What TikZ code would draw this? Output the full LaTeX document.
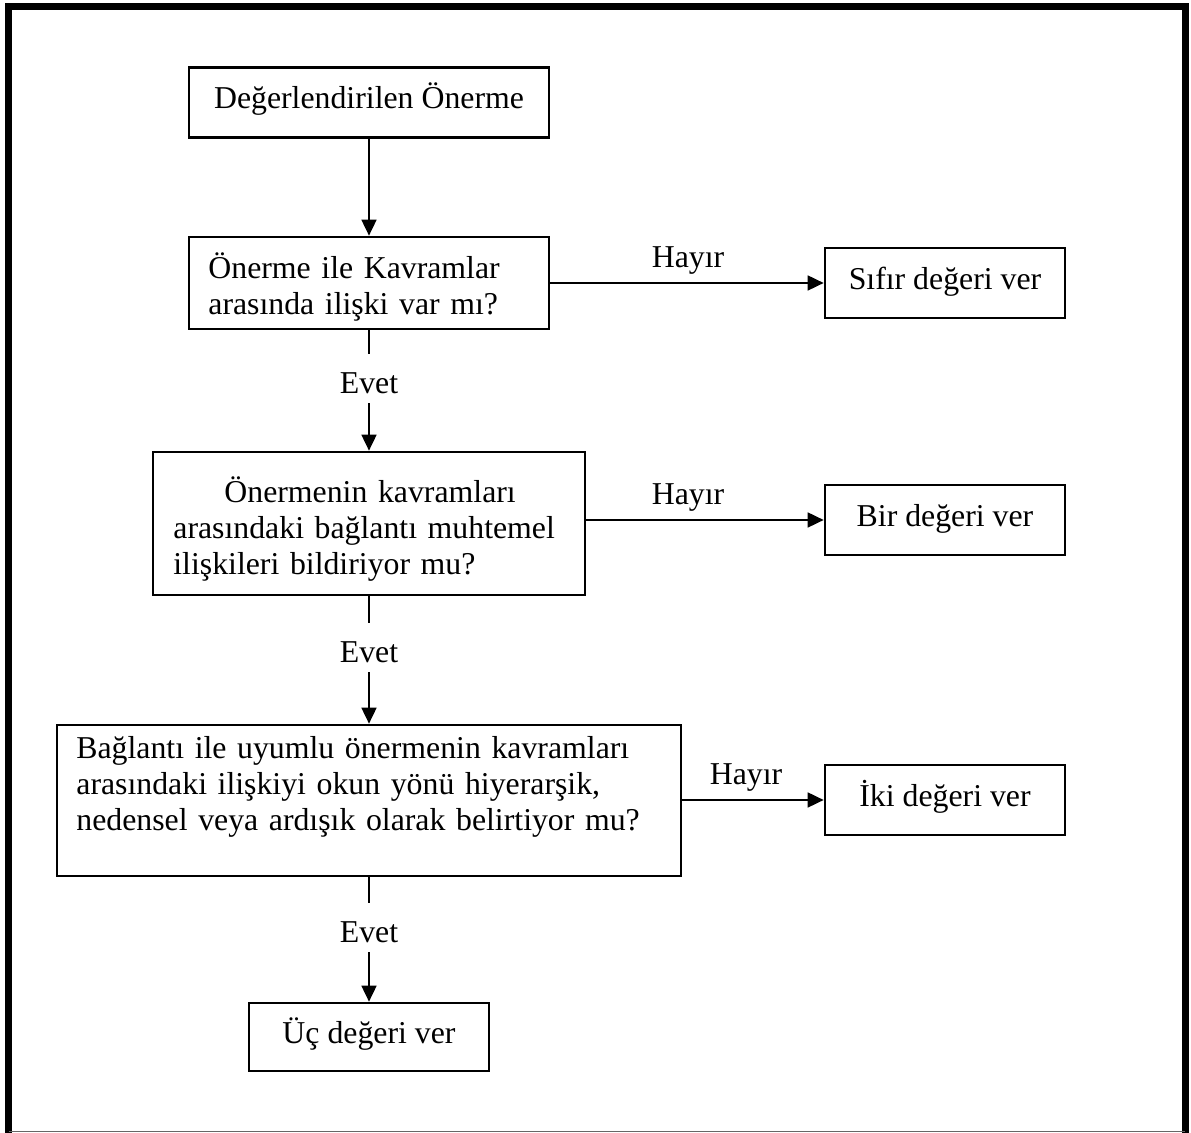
\documentclass[tikz,border=0pt]{standalone}
\usepackage{fontspec}
\setmainfont{Liberation Serif}
\usetikzlibrary{arrows.meta}
\begin{document}
\begin{tikzpicture}[x=0.5pt,y=-0.5pt,
  every node/.style={font=\fontsize{15.9pt}{18pt}\selectfont},
  box/.style={draw, line width=1.35pt, inner sep=0pt, text height=11pt, text depth=4.6pt},
  smallbox/.style={box, minimum width=120pt, minimum height=35pt},
  para/.style={inner sep=0pt, align=left, anchor=base west},
  yesno/.style={inner sep=0pt, anchor=base},
  evetlbl/.style={inner sep=0pt, anchor=base, text height=20pt, text depth=4.5pt},
  flow/.style={line width=0.9pt},
  flowarrow/.style={flow, -{Triangle[length=8pt,width=7.5pt]}}]

\useasboundingbox (0,0) rectangle (1191,1133);

% outer frame
\draw[line width=3.5pt] (8.5,1133) -- (8.5,6.5) -- (1185,6.5) -- (1185,1133);
\draw[line width=0.6pt, black!60] (8.5,1131.5) -- (1185,1131.5);

% main column
\node[box, minimum width=180pt, minimum height=35pt] (b1) at (369,102.5) {Değerlendirilen Önerme};

\node[box, minimum width=180pt, minimum height=46pt] (b2) at (369,283) {};
\node[para, text width=170pt] (t2) at (208,279) {Önerme ile Kavramlar\\arasında ilişki var mı?};

\node[box, minimum width=216pt, minimum height=71.5pt] (b4) at (369,523.5) {};
\node[para, text width=196pt] (t4) at (173,503)
  {\hspace*{25.5pt}Önermenin kavramları\\
   \makebox[196pt][s]{arasındaki bağlantı muhtemel}\\
   ilişkileri bildiriyor mu?};

\node[box, minimum width=312pt, minimum height=75.5pt] (b6) at (369,800.5) {};
\node[para, text width=300pt] (t6) at (76,759)
  {Bağlantı ile uyumlu önermenin kavramları\\
   arasındaki ilişkiyi okun yönü hiyerarşik,\\
   nedensel veya ardışık olarak belirtiyor mu?};

\node[box, minimum width=120pt, minimum height=34pt] (b8) at (369,1037) {Üç değeri ver};

% result boxes on the right
\node[smallbox] (b3) at (945,283) {Sıfır değeri ver};
\node[smallbox] (b5) at (945,520) {Bir değeri ver};
\node[smallbox] (b7) at (945,800) {İki değeri ver};

% branch labels
\node[evetlbl] (e1) at (369,394) {Evet};
\node[evetlbl] (e2) at (369,663) {Evet};
\node[evetlbl] (e3) at (369,943) {Evet};
\node[yesno] (h1) at (688,268) {Hayır};
\node[yesno] (h2) at (688,505) {Hayır};
\node[yesno] (h3) at (746,785) {Hayır};

% connectors
\draw[flowarrow] (b1) -- (b2);
\draw[flow] (b2) -- (e1);
\draw[flowarrow] (e1) -- (b4);
\draw[flow] (b4) -- (e2);
\draw[flowarrow] (e2) -- (b6);
\draw[flow] (b6) -- (e3);
\draw[flowarrow] (e3) -- (b8);

\draw[flowarrow] (b2) -- (b3);
\draw[flowarrow] (b5.west -| b4.east) -- (b5.west);
\draw[flowarrow] (b7.west -| b6.east) -- (b7.west);
\end{tikzpicture}
\end{document}
